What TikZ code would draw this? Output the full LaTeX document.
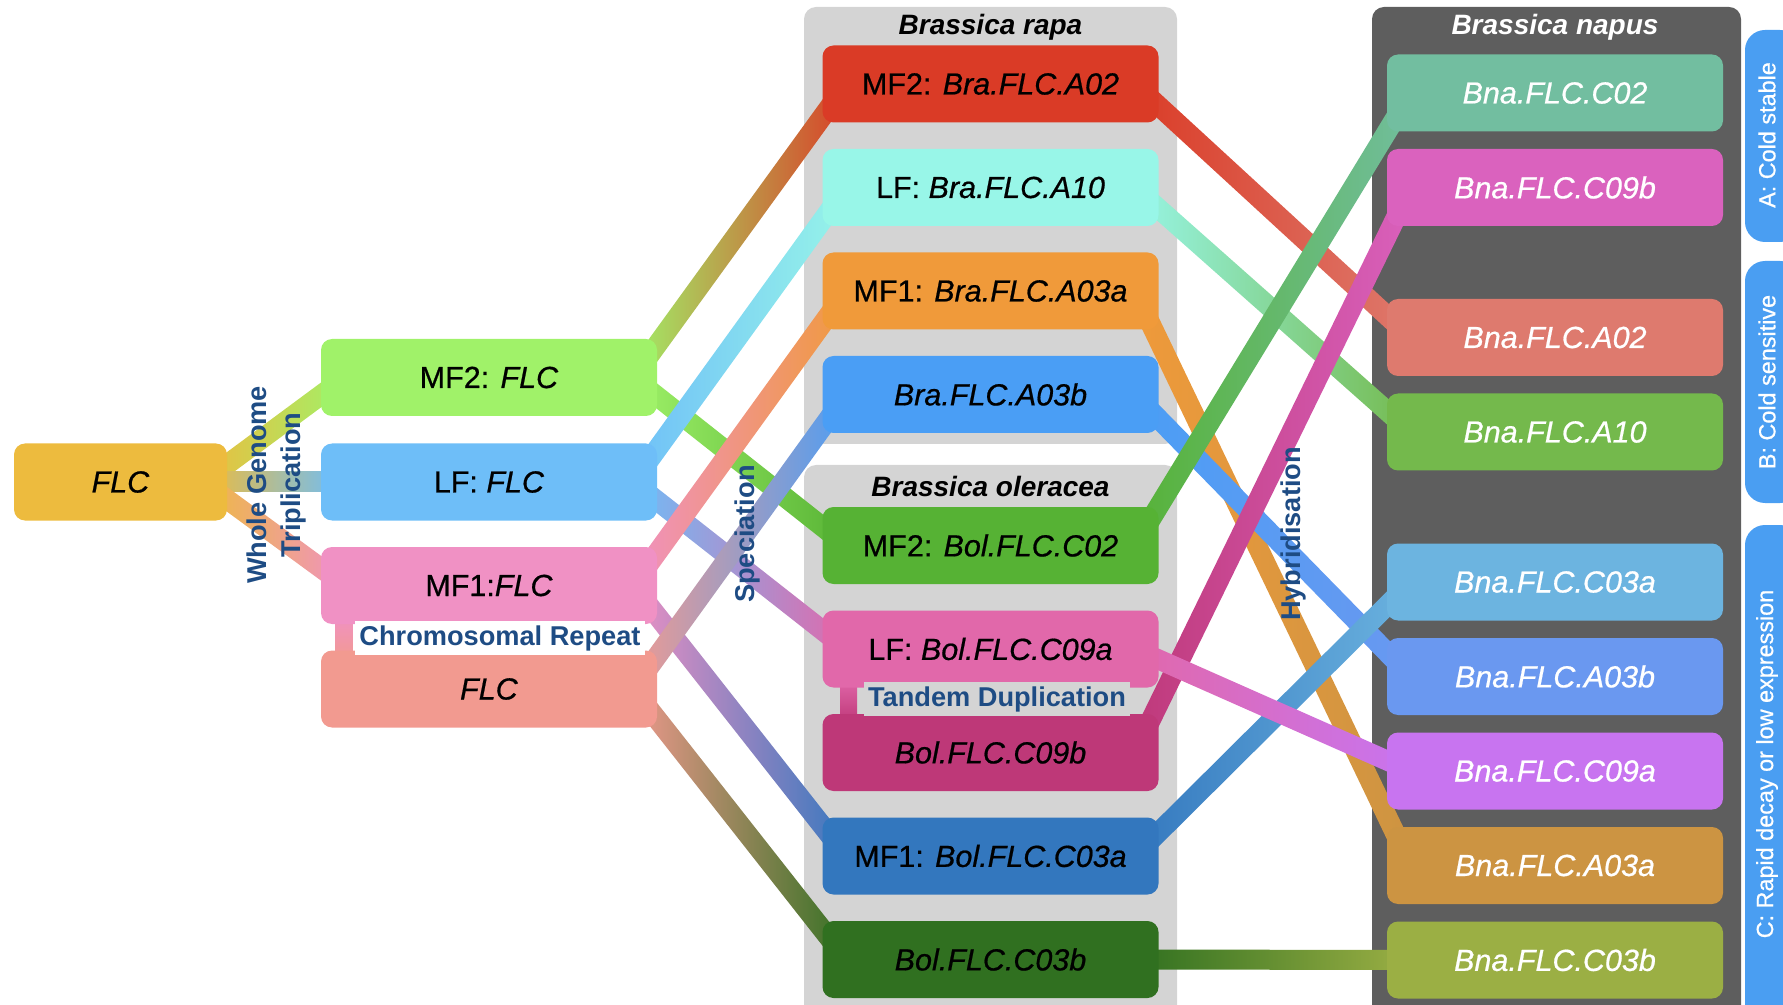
\documentclass[tikz,border=0pt]{standalone}
\usepackage{fontspec}
\setmainfont{Liberation Sans}
\newfontfamily\genefam{Liberation Sans}[FakeBold=0.6]
\usetikzlibrary{calc}
\definecolor{cFLC}{HTML}{EDBB3E}
\definecolor{cMF2}{HTML}{A0F269}
\definecolor{cLF}{HTML}{6EBEF8}
\definecolor{cMF1}{HTML}{F091C4}
\definecolor{cRep}{HTML}{F29A90}
\definecolor{cA02}{HTML}{DA3B26}
\definecolor{cA10}{HTML}{98F6E8}
\definecolor{cA03a}{HTML}{F09A3A}
\definecolor{cA03b}{HTML}{4A9EF5}
\definecolor{cC02}{HTML}{56B234}
\definecolor{cC09a}{HTML}{E168AA}
\definecolor{cC09b}{HTML}{BE3878}
\definecolor{cC03a}{HTML}{3377BE}
\definecolor{cC03b}{HTML}{307020}
\definecolor{cNC02}{HTML}{72BEA0}
\definecolor{cNC09b}{HTML}{DA62BE}
\definecolor{cNA02}{HTML}{DE7A6E}
\definecolor{cNA10}{HTML}{74B94C}
\definecolor{cNC03a}{HTML}{6CB4E0}
\definecolor{cNA03b}{HTML}{6A98F0}
\definecolor{cNC09a}{HTML}{C874F0}
\definecolor{cNA03a}{HTML}{CC9442}
\definecolor{cNC03b}{HTML}{9BAF44}
\definecolor{cPanel}{HTML}{D4D4D4}
\definecolor{cDark}{HTML}{5E5E5E}
\definecolor{cLabel}{HTML}{1E4C84}
\definecolor{cTab}{HTML}{4A9EF2}
\pgfdeclarelayer{back}
\pgfdeclarelayer{links}
\pgfsetlayers{back,links,main}
\newcommand{\genelink}[4]{%
  \coordinate (s) at ([xshift=-12pt]#1.east);
  \coordinate (t) at ([xshift=12pt]#2.west);
  \shade[left color=#3,right color=#4] ($(s)!5pt!90:(t)$) -- ($(s)!5pt!-90:(t)$)
    -- ($(t)!5pt!90:(s)$) -- ($(t)!5pt!-90:(s)$) -- cycle;}

\begin{document}
\begin{tikzpicture}[x=0.5pt,y=-0.5pt,
  gene/.style={rounded corners=5.5pt,minimum width=168pt,minimum height=38.5pt,inner sep=0pt,
    font=\genefam\fontsize{15.25}{18}\selectfont},
  bna/.style={gene,text=white,font=\genefam\fontsize{15.25}{18}\selectfont\itshape},
  title/.style={font=\fontsize{14}{16}\selectfont\bfseries\itshape},
  event/.style={text=cLabel,font=\fontsize{13.6}{17}\selectfont\bfseries,inner sep=2pt},
  tablabel/.style={text=white,rotate=90,font=\genefam\fontsize{11.7}{14}\selectfont}]
\useasboundingbox (0,0) rectangle (1783,1005);
\node[gene,fill=cFLC,minimum width=106.5pt] (flc) at (120.5,482) {\textit{FLC}};
\node[gene,fill=cMF2] (mf2) at (489,377.5) {MF2: \textit{FLC}};
\node[gene,fill=cLF] (lf) at (489,482) {LF: \textit{FLC}};
\node[gene,fill=cMF1] (mf1) at (489,585.5) {MF1:\textit{FLC}};
\node[gene,fill=cRep] (rep) at (489,689) {\textit{FLC}};
\node[gene,fill=cA02] (braA02) at (990.5,84) {MF2: \textit{Bra.FLC.A02}};
\node[gene,fill=cA10] (braA10) at (990.5,187.5) {LF: \textit{Bra.FLC.A10}};
\node[gene,fill=cA03a] (braA03a) at (990.5,291) {MF1: \textit{Bra.FLC.A03a}};
\node[gene,fill=cA03b] (braA03b) at (990.5,394.5) {\textit{Bra.FLC.A03b}};
\node[gene,fill=cC02] (bolC02) at (990.5,545.5) {MF2: \textit{Bol.FLC.C02}};
\node[gene,fill=cC09a] (bolC09a) at (990.5,649) {LF: \textit{Bol.FLC.C09a}};
\node[gene,fill=cC09b] (bolC09b) at (990.5,752.5) {\textit{Bol.FLC.C09b}};
\node[gene,fill=cC03a] (bolC03a) at (990.5,856) {MF1: \textit{Bol.FLC.C03a}};
\node[gene,fill=cC03b] (bolC03b) at (990.5,959.5) {\textit{Bol.FLC.C03b}};
\node[bna,fill=cNC02] (bnaC02) at (1555,93) {Bna.FLC.C02};
\node[bna,fill=cNC09b] (bnaC09b) at (1555,187.5) {Bna.FLC.C09b};
\node[bna,fill=cNA02] (bnaA02) at (1555,337.5) {Bna.FLC.A02};
\node[bna,fill=cNA10] (bnaA10) at (1555,432) {Bna.FLC.A10};
\node[bna,fill=cNC03a] (bnaC03a) at (1555,582) {Bna.FLC.C03a};
\node[bna,fill=cNA03b] (bnaA03b) at (1555,676.5) {Bna.FLC.A03b};
\node[bna,fill=cNC09a] (bnaC09a) at (1555,771) {Bna.FLC.C09a};
\node[bna,fill=cNA03a] (bnaA03a) at (1555,865.5) {Bna.FLC.A03a};
\node[bna,fill=cNC03b] (bnaC03b) at (1555,960) {Bna.FLC.C03b};
\node[title] (rapa) at (990.5,27) {Brassica rapa};
\node[title] (olera) at (990.5,486) {Brassica oleracea};
\node[title,text=white] (napus) at (1555,27) {Brassica napus};
\node[event,rotate=90,align=center] (wgt) at (276,485) {Whole Genome\\Triplication};
\node[event,rotate=90] (spec) at (747,534) {Speciation};
\node[event,rotate=90] (hyb) at (1293,534) {Hybridisation};
\node[event,fill=white] (chrom) at (500,638) {Chromosomal Repeat};
\node[event,fill=cPanel] (tandem) at (997,699) {Tandem Duplication};
\fill[cTab,rounded corners=10pt] (1745,30) rectangle (1800,242);
\fill[cTab,rounded corners=10pt] (1745,261) rectangle (1800,503);
\fill[cTab,rounded corners=10pt] (1745,525) rectangle (1800,1030);
\node[tablabel] (tabA) at (1767,135) {A: Cold stable};
\node[tablabel] (tabB) at (1767,382) {B: Cold sensitive};
\node[tablabel] (tabC) at (1767,764) {C: Rapid decay or low expression};
\begin{pgfonlayer}{links}
\genelink{flc}{mf2}{cFLC}{cMF2}
\genelink{flc}{lf}{cFLC}{cLF}
\genelink{flc}{mf1}{cFLC}{cMF1}
\shade[top color=cMF1,bottom color=cRep] ([xshift=7.5pt,yshift=5pt]mf1.south west) rectangle ([xshift=16pt,yshift=-5pt]rep.north west);
\genelink{mf2}{braA02}{cMF2}{cA02}
\genelink{mf2}{bolC02}{cMF2}{cC02}
\genelink{lf}{braA10}{cLF}{cA10}
\genelink{lf}{bolC09a}{cLF}{cC09a}
\genelink{mf1}{braA03a}{cMF1}{cA03a}
\genelink{mf1}{bolC03a}{cMF1}{cC03a}
\genelink{rep}{braA03b}{cRep}{cA03b}
\genelink{rep}{bolC03b}{cRep}{cC03b}
\shade[top color=cC09a,bottom color=cC09b] ([xshift=9pt,yshift=5pt]bolC09a.south west) rectangle ([xshift=17.5pt,yshift=-5pt]bolC09b.north west);
\genelink{braA02}{bnaA02}{cA02}{cNA02}
\genelink{braA10}{bnaA10}{cA10}{cNA10}
\genelink{braA03a}{bnaA03a}{cA03a}{cNA03a}
\genelink{braA03b}{bnaA03b}{cA03b}{cNA03b}
\genelink{bolC03a}{bnaC03a}{cC03a}{cNC03a}
\genelink{bolC09b}{bnaC09b}{cC09b}{cNC09b}
\genelink{bolC02}{bnaC02}{cC02}{cNC02}
\genelink{bolC09a}{bnaC09a}{cC09a}{cNC09a}
\genelink{bolC03b}{bnaC03b}{cC03b}{cNC03b}
\end{pgfonlayer}
\begin{pgfonlayer}{back}
\fill[cPanel,rounded corners=6pt] (804,7) rectangle (1177,444);
\fill[cPanel,rounded corners=6pt] (804,465) rectangle (1177,1020);
\fill[cDark,rounded corners=6pt] (1372,7) rectangle (1741,1020);
\end{pgfonlayer}
\end{tikzpicture}
\end{document}
